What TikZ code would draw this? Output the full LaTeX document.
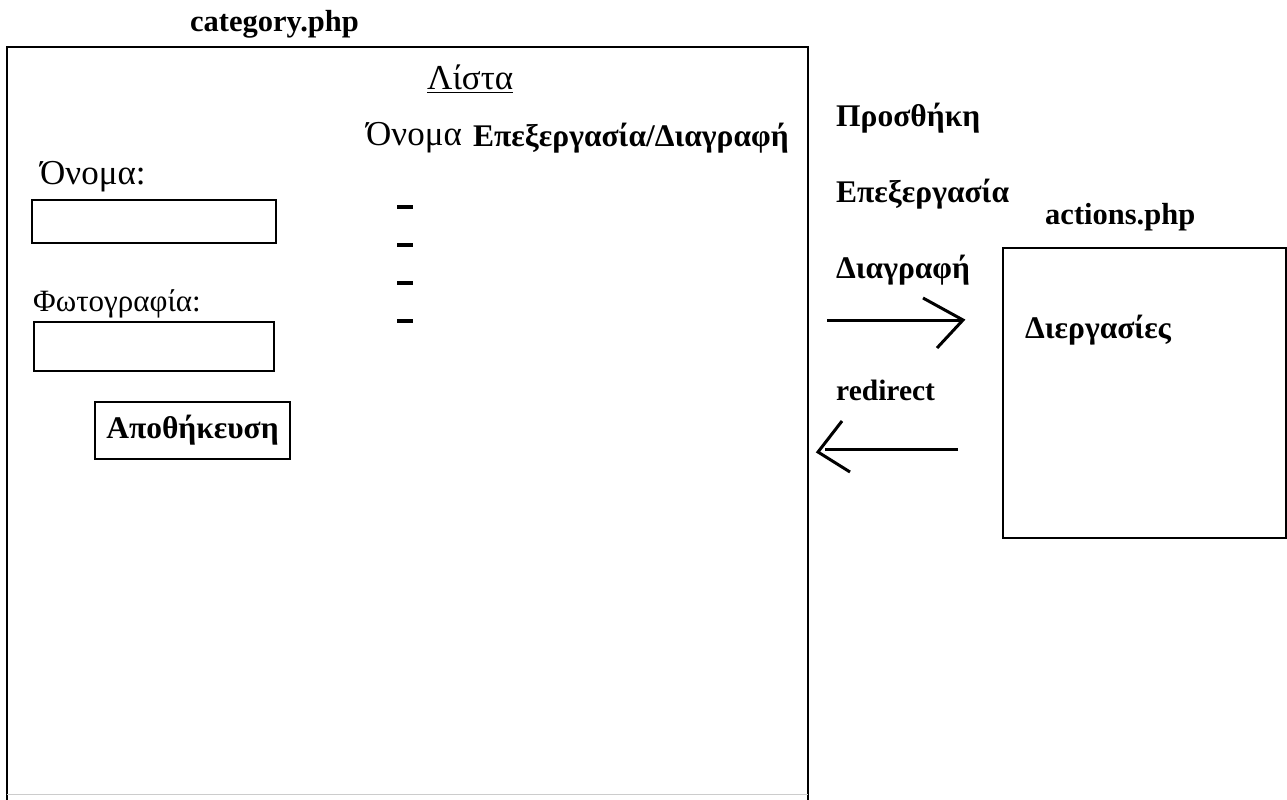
\documentclass[tikz,border=0pt]{standalone}
\usepackage{fontspec}
\setmainfont{Liberation Serif}
\usetikzlibrary{calc}
\begin{document}
\begin{tikzpicture}[x=1pt,y=-1pt,
  lbl/.style={anchor=west,inner sep=0pt,font=\fontsize{35}{38}\selectfont},
  blbl/.style={anchor=west,inner sep=0pt,font=\fontsize{31.5}{34}\selectfont\bfseries},
  latb/.style={anchor=west,inner sep=0pt,font=\fontsize{30.5}{33}\selectfont\bfseries},
  frame/.style={draw,line width=2pt},
  field/.style={draw,line width=1.8pt},
  stroke/.style={line width=3pt}]
\useasboundingbox (0,0) rectangle (1287,800);
% titles
\node[latb] (cat) at (190,24) {category.php};
\node[latb] (act) at (1045,217) {actions.php};
% main frame
\draw[frame] (7,800) -- (7,47) -- (808,47) -- (808,800);
\draw[gray!40,line width=1pt] (7,794) -- (808,794);
% list
\node[lbl] (lista) at (427,77) {Λίστα};
\draw[line width=1.3pt] ($(lista.south west)+(0,3)$) -- ($(lista.south east)+(0,3)$);
\node[lbl] (colname) at (366,138) {Όνομα};
\node[blbl] (coledit) at (473,138) {Επεξεργασία/Διαγραφή};
\foreach \yy [count=\i] in {207,245,283,321}
  \draw[line width=3.8pt] (397,\yy) coordinate (d\i a) -- (413,\yy) coordinate (d\i b);
% form
\node[lbl] (lname) at (40,177) {Όνομα:};
\node[field,minimum width=244pt,minimum height=43pt,inner sep=0pt] (fname) at (154,221.5) {};
\node[lbl,font=\fontsize{31}{34}\selectfont] (lphoto) at (33,304) {Φωτογραφία:};
\node[field,minimum width=240pt,minimum height=49pt,inner sep=0pt] (fphoto) at (154,346.5) {};
\node[field,minimum width=195pt,minimum height=57pt,inner sep=0pt,font=\fontsize{31.5}{34}\selectfont\bfseries] (save) at (192.5,430.5) {Αποθήκευση};
% right labels
\node[blbl] (add) at (836,118) {Προσθήκη};
\node[blbl] (edit) at (836,194) {Επεξεργασία};
\node[blbl] (del) at (836,270) {Διαγραφή};
\node[latb,font=\fontsize{29.5}{32}\selectfont\bfseries] (redir) at (836,390) {redirect};
% actions box
\draw[frame] (1003,248) -- (1286,248) -- (1286,538) -- (1003,538) -- cycle;
\node[blbl] (proc) at (1025,330) {Διεργασίες};
% arrows
\coordinate (a1s) at (827,320);
\coordinate (a1e) at (963,320);
\draw[stroke] (a1s) -- (a1e);
\draw[stroke] (923,298) -- (a1e) -- (937,348);
\coordinate (a2s) at (958,449);
\coordinate (a2e) at (818,452);
\draw[stroke] (a2s) -- (825,449);
\draw[stroke] (842,421) -- (a2e) -- (850,472);
\end{tikzpicture}
\end{document}
